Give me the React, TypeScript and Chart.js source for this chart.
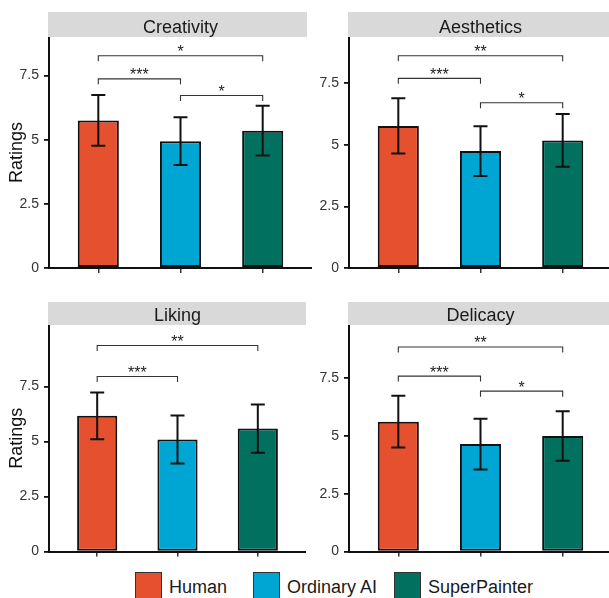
import React, { useEffect, useRef } from 'react';
import { Chart, registerables } from 'chart.js';

Chart.register(...registerables);

// ---------- data ----------
const groups = ['Human', 'Ordinary AI', 'SuperPainter'];
const groupColors = ['#E5502F', '#00A6D3', '#02705F'];
const groupPositions = [1, 2, 3];
const yTickValues = [0, 2.5, 5, 7.5];

const panelTitles = ['Creativity', 'Aesthetics', 'Liking', 'Delicacy'];

const creativityMean = [5.75, 4.94, 5.35];
const creativitySD = [0.99, 0.93, 0.97];
const aestheticsMean = [5.77, 4.75, 5.18];
const aestheticsSD = [1.12, 1.01, 1.07];
const likingMean = [6.17, 5.1, 5.59];
const likingSD = [1.06, 1.09, 1.1];
const delicacyMean = [5.62, 4.65, 5.0];
const delicacySD = [1.12, 1.1, 1.07];

// brackets: [from group index, to group index, y value, label]
const creativityBrackets: [number, number, number, string][] = [
  [0, 2, 8.27, '*'],
  [0, 1, 7.37, '***'],
  [1, 2, 6.72, '*'],
];
const aestheticsBrackets: [number, number, number, string][] = [
  [0, 2, 8.62, '**'],
  [0, 1, 7.7, '***'],
  [1, 2, 6.71, '*'],
];
const likingBrackets: [number, number, number, string][] = [
  [0, 2, 9.37, '**'],
  [0, 1, 7.96, '***'],
];
const delicacyBrackets: [number, number, number, string][] = [
  [0, 2, 8.85, '**'],
  [0, 1, 7.59, '***'],
  [1, 2, 6.94, '*'],
];

const yMaxValues = [9.0, 9.38, 10.3, 9.8];

const FONT = "'Liberation Sans', Arial, Helvetica, sans-serif";

type Layout = {
  left: number; top: number; width: number; height: number;
  areaTop: number; areaBottom: number; axisX: number; stripTop: number; stripTrim: number;
};

type PanelProps = {
  title: string;
  means: number[];
  sds: number[];
  brackets: [number, number, number, string][];
  yMax: number;
  showYTitle: boolean;
  layout: Layout;
};

function Panel({ title, means, sds, brackets, yMax, showYTitle, layout }: PanelProps) {
  const ref = useRef<HTMLCanvasElement | null>(null);

  useEffect(() => {
    if (!ref.current) return;
    const L = layout;
    const extras = {
      id: 'panelExtras',
      afterDraw(chart: any) {
        const { ctx, chartArea } = chart;
        const x = chart.scales.x;
        const y = chart.scales.y;
        ctx.save();
        // strip
        ctx.fillStyle = '#D9D9D9';
        const sL = chartArea.left - 1;
        const sR = chartArea.right - L.stripTrim;
        ctx.fillRect(sL, L.stripTop - L.top, sR - sL, chartArea.top - (L.stripTop - L.top));
        ctx.fillStyle = '#1a1a1a';
        ctx.font = `18px ${FONT}`;
        ctx.textAlign = 'center';
        ctx.textBaseline = 'alphabetic';
        ctx.fillText(title, (chartArea.left + chartArea.right) / 2, chartArea.top - 3.6);

        // error bars
        ctx.strokeStyle = '#111';
        ctx.lineWidth = 2;
        means.forEach((m, i) => {
          const px = x.getPixelForValue(groupPositions[i]);
          const yt = y.getPixelForValue(m + sds[i]);
          const yb = y.getPixelForValue(m - sds[i]);
          ctx.beginPath();
          ctx.moveTo(px, yt);
          ctx.lineTo(px, yb);
          ctx.moveTo(px - 7, yt);
          ctx.lineTo(px + 7, yt);
          ctx.moveTo(px - 7, yb);
          ctx.lineTo(px + 7, yb);
          ctx.stroke();
        });

        // significance brackets
        ctx.strokeStyle = '#333';
        ctx.lineWidth = 1.1;
        ctx.fillStyle = '#222';
        ctx.font = `16px ${FONT}`;
        ctx.textAlign = 'center';
        ctx.textBaseline = 'alphabetic';
        brackets.forEach(([a, b, v, lab]) => {
          const xa = x.getPixelForValue(groupPositions[a]);
          const xb = x.getPixelForValue(groupPositions[b]);
          const py = y.getPixelForValue(v);
          ctx.beginPath();
          ctx.moveTo(xa, py + 5.5);
          ctx.lineTo(xa, py);
          ctx.lineTo(xb, py);
          ctx.lineTo(xb, py + 5.5);
          ctx.stroke();
          ctx.fillText(lab, (xa + xb) / 2, py + 1.5);
        });
        ctx.restore();
      },
    };

    const chart = new Chart(ref.current, {
      type: 'bar',
      data: {
        datasets: [
          {
            label: title,
            data: means.map((m, i) => ({ x: groupPositions[i], y: m })),
            backgroundColor: groupColors,
            borderColor: '#111',
            borderWidth: 2,
            borderSkipped: false,
            barPercentage: 0.5,
            categoryPercentage: 1,
          } as any,
        ],
      },
      options: {
        responsive: false,
        animation: false,
        devicePixelRatio: 1,
        layout: { padding: { top: L.areaTop - L.top, left: 0, right: 0, bottom: 0 } },
        plugins: {
          legend: { display: false },
          tooltip: { enabled: false },
          title: { display: false },
        },
        scales: {
          x: {
            type: 'linear',
            min: 0.4,
            max: 3.6,
            offset: false,
            afterBuildTicks: (s: any) => {
              s.ticks = groupPositions.map((v) => ({ value: v }));
            },
            afterFit: (s: any) => {
              s.height = L.top + L.height - L.areaBottom;
            },
            grid: { display: true, offset: false, drawOnChartArea: false, drawTicks: true, tickLength: 5, color: '#333', lineWidth: 1.5 },
            border: { display: true, color: '#111', width: 2 },
            ticks: { display: false },
          },
          y: {
            type: 'linear',
            min: 0,
            max: yMax,
            afterBuildTicks: (s: any) => {
              s.ticks = yTickValues.map((v) => ({ value: v }));
            },
            afterFit: (s: any) => {
              s.width = L.axisX - L.left;
            },
            grid: { display: true, offset: false, drawOnChartArea: false, drawTicks: true, tickLength: 5, color: '#111', lineWidth: 1.8 },
            border: { display: true, color: '#111', width: 2 },
            ticks: {
              font: { family: FONT, size: 14 },
              color: '#333',
              padding: 5,
              callback: (v: any) => String(v),
            },
            title: {
              display: showYTitle,
              text: 'Ratings',
              font: { family: FONT, size: 18 },
              color: '#111',
              padding: { top: 6, bottom: 0 },
            },
          },
        },
      } as any,
      plugins: [extras],
    });
    return () => chart.destroy();
  }, []);

  return (
    <canvas
      ref={ref}
      width={layout.width}
      height={layout.height}
      style={{ position: 'absolute', left: layout.left, top: layout.top, width: layout.width, height: layout.height }}
    />
  );
}

const layouts: Layout[] = [
  { left: 0, top: 0, width: 312, height: 290, areaTop: 37, areaBottom: 268, axisX: 49, stripTop: 12, stripTrim: 5 },
  { left: 312, top: 0, width: 300, height: 290, areaTop: 37, areaBottom: 268, axisX: 349, stripTop: 12, stripTrim: 0 },
  { left: 0, top: 290, width: 306, height: 275, areaTop: 325, areaBottom: 556, axisX: 49, stripTop: 302, stripTrim: -2 },
  { left: 306, top: 290, width: 306, height: 275, areaTop: 325, areaBottom: 556, axisX: 349, stripTop: 302, stripTrim: 0 },
];

const legendLeft = [135, 253, 394];

export default function App() {
  const means = [creativityMean, aestheticsMean, likingMean, delicacyMean];
  const sds = [creativitySD, aestheticsSD, likingSD, delicacySD];
  const brs = [creativityBrackets, aestheticsBrackets, likingBrackets, delicacyBrackets];
  return (
    <div
      style={{
        position: 'absolute', left: 0, top: 0, width: 609, height: 598,
        overflow: 'hidden', background: '#fff', fontFamily: FONT,
      }}
    >
      {panelTitles.map((t, i) => (
        <Panel
          key={t}
          title={t}
          means={means[i]}
          sds={sds[i]}
          brackets={brs[i]}
          yMax={yMaxValues[i]}
          showYTitle={i % 2 === 0}
          layout={layouts[i]}
        />
      ))}
      {groups.map((g, i) => (
        <div
          key={g}
          style={{ position: 'absolute', left: legendLeft[i], top: 572, height: 27, display: 'flex', alignItems: 'center', whiteSpace: 'nowrap' }}
        >
          <div style={{ width: 25, height: 25, background: groupColors[i], border: '1px solid #333' }} />
          <span style={{ marginLeft: 7, fontSize: 18, color: '#1a1a1a', lineHeight: '27px', position: 'relative', top: 2 }}>{g}</span>
        </div>
      ))}
    </div>
  );
}
